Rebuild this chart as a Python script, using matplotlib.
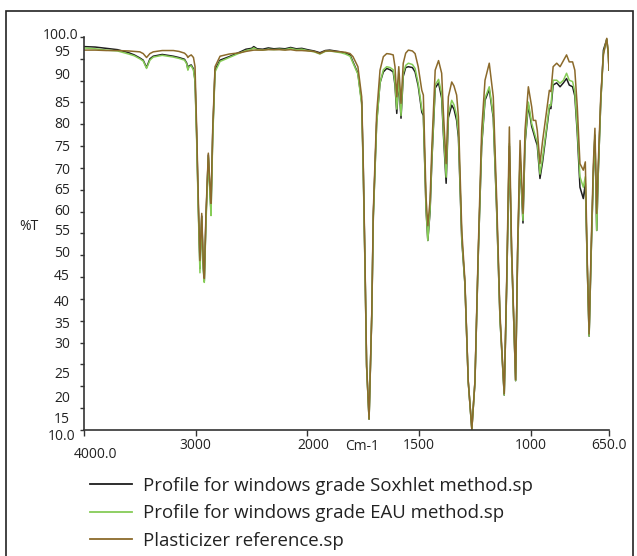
import numpy as np
import matplotlib
matplotlib.use("Agg")
import matplotlib.pyplot as plt
from matplotlib.transforms import ScaledTranslation
from matplotlib.lines import Line2D
from matplotlib.patches import Rectangle

# ---------------- data ----------------
wavenumber = [4000, 3900, 3800, 3700, 3600, 3550, 3500, 3470, 3440, 3410, 3380, 3300, 3200, 3150,
              3100, 3080, 3070, 3060, 3040, 3020, 3006, 2991, 2977, 2962, 2946, 2932, 2923, 2908,
              2887, 2872, 2863, 2848, 2827, 2782, 2700, 2600, 2550, 2500, 2480, 2450, 2400, 2350,
              2300, 2250, 2200, 2150, 2100, 2050, 2000, 1970, 1944, 1920, 1900, 1850, 1830, 1809,
              1796, 1774, 1757, 1750, 1742, 1735, 1724, 1712, 1705, 1690, 1675, 1660, 1645, 1630,
              1616, 1608, 1600, 1591, 1581, 1571, 1560, 1548, 1530, 1518, 1504, 1488, 1481, 1469,
              1461, 1451, 1443, 1428, 1413, 1399, 1391, 1379, 1369, 1354, 1344, 1332, 1324, 1309,
              1295, 1280, 1264, 1250, 1235, 1220, 1205, 1186, 1168, 1153, 1138, 1119, 1108, 1096,
              1086, 1068, 1059, 1048, 1041, 1035, 1026, 1011, 996, 989, 978, 971, 959, 947,
              929, 917, 910, 900, 884, 869, 854, 840, 828, 813, 803, 792, 780, 765,
              756, 747, 739, 730, 720, 713, 705, 698, 687, 675, 660, 653, 650]

plasticizer = [97.0, 97.0, 96.9, 96.9, 96.8, 96.7, 96.6, 96.2, 95.3, 96.2, 96.6, 96.9, 96.9, 96.7,
               96.3, 95.8, 95.3, 95.6, 95.9, 95.3, 93.2, 78.6, 63.3, 48.8, 59.6, 48.1, 44.7, 59.6,
               73.4, 65.6, 61.9, 78.6, 93.2, 95.6, 96.1, 96.4, 96.7, 96.9, 97.0, 97.0, 97.0, 97.1,
               97.1, 97.1, 97.0, 97.1, 96.9, 96.9, 96.8, 96.7, 96.2, 96.8, 96.8, 96.6, 96.5, 96.2,
               95.5, 93.2, 86.3, 71.0, 48.0, 25.0, 12.5, 36.6, 60.0, 82.5, 92.4, 95.5, 96.2, 96.1,
               95.9, 93.2, 86.3, 93.2, 84.8, 94.0, 96.3, 97.0, 96.8, 96.2, 93.2, 87.8, 86.7, 63.3,
               56.8, 62.6, 74.7, 92.4, 94.6, 91.7, 82.5, 71.0, 86.3, 89.7, 88.8, 86.7, 81.7, 55.7,
               44.2, 21.2, 10.2, 21.2, 51.8, 78.6, 90.1, 94.0, 86.3, 63.3, 36.6, 18.3, 44.2, 79.4,
               51.8, 21.5, 51.8, 76.3, 67.2, 59.6, 78.6, 88.6, 84.0, 80.9, 80.9, 78.6, 71.0, 76.3,
               83.2, 87.8, 87.5, 93.2, 94.0, 93.2, 94.6, 95.9, 94.3, 94.3, 92.4, 84.0, 71.0, 69.5,
               71.4, 48.1, 32.0, 51.8, 71.0, 79.1, 59.6, 71.0, 86.3, 95.9, 99.7, 96.2, 92.4]

eau = [97.5, 97.3, 97.0, 96.8, 96.1, 95.7, 95.0, 94.5, 92.8, 94.7, 95.4, 95.8, 95.4, 95.1,
       94.7, 93.8, 92.4, 93.2, 93.4, 92.4, 89.8, 76.0, 60.5, 46.0, 58.5, 46.5, 43.8, 57.5,
       72.5, 63.5, 59.1, 76.5, 92.0, 94.4, 95.3, 96.4, 96.9, 97.2, 97.5, 97.1, 97.0, 97.2,
       97.1, 97.2, 97.1, 97.4, 97.1, 97.2, 96.9, 96.6, 96.1, 96.7, 96.8, 96.4, 96.1, 95.6,
       94.1, 91.5, 84.5, 69.0, 46.5, 24.5, 12.5, 36.0, 58.5, 80.0, 89.5, 92.5, 93.2, 93.0,
       92.5, 89.5, 83.5, 90.5, 82.0, 91.7, 93.5, 94.0, 93.7, 92.8, 89.4, 83.5, 82.5, 61.0,
       53.4, 60.5, 72.0, 89.0, 90.3, 87.0, 78.5, 67.9, 82.5, 85.5, 84.5, 82.0, 78.0, 54.0,
       43.5, 21.0, 10.2, 21.0, 50.5, 75.5, 86.0, 88.6, 82.0, 61.0, 35.5, 18.0, 43.0, 75.6,
       50.5, 21.3, 50.5, 73.0, 64.5, 58.0, 76.0, 85.1, 80.2, 79.0, 77.0, 76.0, 68.6, 72.5,
       79.4, 84.5, 84.3, 90.1, 90.1, 89.4, 90.1, 91.7, 90.1, 89.8, 87.5, 79.0, 68.0, 65.6,
       68.0, 47.0, 31.5, 50.0, 69.0, 77.5, 55.7, 69.0, 85.0, 96.2, 99.5, 96.0, 92.4]

soxhlet = [97.8, 97.7, 97.4, 97.1, 96.4, 95.9, 95.2, 94.7, 93.0, 95.0, 95.6, 96.0, 95.6, 95.3,
           94.9, 94.0, 92.6, 93.4, 93.6, 92.7, 90.1, 77.0, 61.5, 47.0, 59.0, 47.0, 44.2, 58.5,
           73.0, 64.5, 60.0, 77.5, 92.5, 94.7, 95.5, 96.6, 97.2, 97.4, 97.8, 97.3, 97.2, 97.5,
           97.3, 97.4, 97.3, 97.6, 97.3, 97.4, 97.1, 96.8, 96.4, 96.9, 97.0, 96.6, 96.3, 95.9,
           94.3, 91.7, 85.0, 70.0, 47.0, 24.5, 12.5, 36.0, 59.0, 80.5, 89.5, 92.0, 92.8, 92.5,
           92.0, 89.0, 82.5, 90.0, 81.4, 91.0, 93.0, 93.2, 93.0, 92.0, 88.8, 82.8, 82.0, 60.5,
           53.4, 60.0, 71.5, 88.3, 89.5, 86.0, 77.5, 66.5, 81.5, 84.4, 83.5, 80.9, 77.0, 53.5,
           43.5, 21.0, 10.2, 21.0, 50.5, 75.0, 85.5, 88.0, 81.5, 60.5, 35.5, 18.0, 43.0, 75.0,
           50.5, 21.3, 50.5, 72.5, 64.0, 57.4, 75.5, 84.4, 79.5, 78.3, 76.3, 75.2, 67.6, 71.5,
           78.8, 83.7, 83.6, 89.0, 89.5, 88.6, 89.5, 90.5, 89.0, 88.6, 86.5, 78.0, 65.6, 63.0,
           66.5, 47.0, 31.5, 50.0, 69.0, 77.5, 55.7, 69.0, 85.0, 97.0, 99.5, 96.0, 92.4]

series_labels = ["Profile for windows grade Soxhlet method.sp",
                 "Profile for windows grade EAU method.sp",
                 "Plasticizer reference.sp"]
series_colors = ["#1e1e1e", "#86cc57", "#8b6a2b"]

x_ticks = [4000, 3000, 2000, 1500, 1000, 650]
x_tick_labels = ["4000.0", "3000", "2000", "1500", "1000", "650.0"]
y_ticks = list(range(10, 101, 5))
y_tick_labels = ["10.0"] + [str(v) for v in range(15, 100, 5)] + ["100.0"]

# ---------------- figure ----------------
plt.rcParams["font.family"] = ["Open Sans", "DejaVu Sans"]
W, H = 637, 556
fig = plt.figure(figsize=(W / 100, H / 100), dpi=100)
ax = fig.add_axes([84 / W, 1 - 430 / H, (609 - 84) / W, (430 - 37) / H])


def fwd(w):
    w = np.asarray(w, dtype=float)
    return np.where(w > 2000, w / 2 + 1000, w)


def inv(p):
    p = np.asarray(p, dtype=float)
    return np.where(p > 2000, 2 * (p - 1000), p)


ax.set_xscale("function", functions=(fwd, inv))

for vals, col in zip([soxhlet, eau, plasticizer], series_colors):
    ax.plot(wavenumber, vals, color=col, lw=1.1, solid_joinstyle="round")

ax.set_xlim(4000, 650)
ax.set_ylim(10, 100)
for s in ["top", "right"]:
    ax.spines[s].set_visible(False)
for s in ["left", "bottom"]:
    ax.spines[s].set_color("#333333")
    ax.spines[s].set_linewidth(1.2)

ax.set_xticks(x_ticks)
ax.set_xticklabels(x_tick_labels)
ax.set_yticks(y_ticks)
ax.set_yticklabels(y_tick_labels)
ax.xaxis.set_minor_locator(matplotlib.ticker.NullLocator())
ax.tick_params(axis="x", length=4, width=1, color="#333333", labelsize=10, pad=2, labelcolor="#222222")
ax.tick_params(axis="y", length=3, width=1, color="#333333", labelsize=10, pad=7, labelcolor="#222222")

# per-label pixel offsets (dx right, dy down) mimicking the reference placement
y_offsets = {10: (5, 4), 15: (0, 9), 20: (0, 10), 25: (0, 8), 30: (0, 0), 35: (0, 2), 40: (0, 2),
             45: (0, -3), 50: (0, -4), 55: (0, -4), 60: (0, -2), 65: (0, -1), 70: (0, 0),
             75: (0, -1), 80: (0, -2), 85: (0, -1), 90: (0, -7), 95: (0, -8), 100: (8, -3)}
for tick, v in zip(ax.yaxis.get_major_ticks(), y_ticks):
    dx, dy = y_offsets[v]
    lab = tick.label1
    lab.set_transform(lab.get_transform() + ScaledTranslation(dx / 100, -dy / 100, fig.dpi_scale_trans))

x_offsets = {4000: (11, 9), 2000: (6, 0)}
for tick, v in zip(ax.xaxis.get_major_ticks(), x_ticks):
    if v in x_offsets:
        dx, dy = x_offsets[v]
        lab = tick.label1
        lab.set_transform(lab.get_transform() + ScaledTranslation(dx / 100, -dy / 100, fig.dpi_scale_trans))

fig.text(29 / W, 1 - 227 / H, "%T", ha="center", va="center", fontsize=10, color="#222222")
fig.text(362 / W, 1 - 446 / H, "Cm-1", ha="center", va="center", fontsize=10, color="#222222")

handles = [Line2D([], [], color=c, lw=1.3) for c in series_colors]
fig.legend(handles, series_labels, loc="upper left", bbox_to_anchor=(90 / W, 1 - 477 / H),
           frameon=False, fontsize=13.4, handlelength=2.26, handletextpad=0.58,
           labelspacing=0.5, borderpad=0, borderaxespad=0, labelcolor="#222222")

fig.add_artist(Rectangle((6 / W, -0.02), (633 - 6) / W, 1 - 11 / H + 0.02, transform=fig.transFigure,
                         fill=False, edgecolor="#222222", lw=1.2, clip_on=False))

fig.savefig("out.png", dpi=100)
